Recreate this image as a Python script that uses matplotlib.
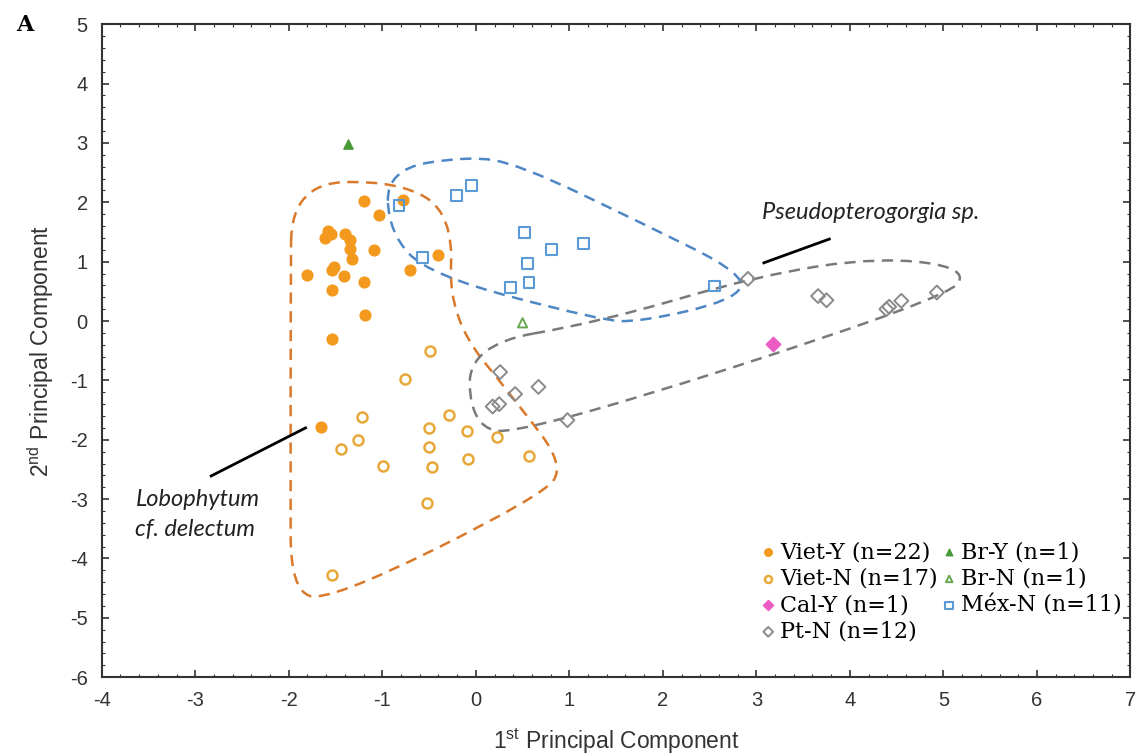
import numpy as np
import matplotlib
matplotlib.use("Agg")
import matplotlib.pyplot as plt
from matplotlib.path import Path
from matplotlib.patches import PathPatch
from matplotlib.ticker import MultipleLocator

plt.rcParams["axes.unicode_minus"] = False
plt.rcParams["mathtext.default"] = "regular"

# PCA scores
viet_y_x = [-1.20, -1.03, -0.78, -1.58, -1.61, -1.55, -1.40, -1.34, -1.34, -1.32, -1.09,
            -0.40, -1.81, -1.52, -1.54, -1.41, -1.20, -0.70, -1.54, -1.19, -1.54, -1.65]
viet_y_y = [2.02, 1.78, 2.04, 1.52, 1.39, 1.47, 1.46, 1.37, 1.22, 1.05, 1.20,
            1.11, 0.78, 0.91, 0.86, 0.76, 0.65, 0.86, 0.53, 0.10, -0.31, -1.78]

viet_n_x = [-0.49, -0.76, -1.22, -0.29, -0.50, -0.09, 0.23, -1.26, -1.44, -0.50,
            -0.08, 0.57, -0.99, -0.47, -0.52, -1.54]
viet_n_y = [-0.51, -0.97, -1.62, -1.59, -1.81, -1.86, -1.95, -2.00, -2.16, -2.13,
            -2.33, -2.27, -2.44, -2.46, -3.06, -4.27]

cal_y_x = [3.18]
cal_y_y = [-0.39]

pt_n_x = [2.91, 3.66, 3.75, 4.39, 4.42, 4.55, 4.93, 0.26, 0.67, 0.42, 0.25, 0.18, 0.98]
pt_n_y = [0.71, 0.42, 0.35, 0.20, 0.24, 0.34, 0.48, -0.86, -1.11, -1.23, -1.40, -1.44, -1.67]

br_y_x = [-1.37]
br_y_y = [2.98]

br_n_x = [0.50]
br_n_y = [-0.03]

mex_n_x = [-0.82, -0.21, -0.05, -0.57, 0.52, 0.81, 1.15, 0.55, 0.57, 0.37, 2.55]
mex_n_y = [1.94, 2.11, 2.28, 1.07, 1.49, 1.20, 1.30, 0.97, 0.65, 0.57, 0.59]

# control polygons of the dashed group outlines
hull_orange = [(-1.97, 2.32), (-0.82, 2.36), (-0.24, 1.79), (-0.29, 0.05), (0.46, -1.41),
               (0.94, -2.42), (0.73, -2.93), (-1.57, -4.73), (-1.98, -4.53),
               (-1.98, -2.68), (-1.98, 0.35)]
hull_blue = [(-0.95, 2.55), (-0.08, 2.78), (0.46, 2.64), (1.75, 1.67), (2.90, 0.77),
             (2.76, 0.35), (1.75, -0.02), (1.32, 0.02), (-0.50, 0.77), (-0.93, 1.50)]
hull_grey = [(-0.08, -0.40), (-0.05, -1.75), (0.46, -1.94), (5.06, 0.39), (5.26, 0.89),
             (4.32, 1.08), (3.03, 0.77), (1.32, -0.02)]


def smooth_closed(pts):
    # closed quadratic b-spline through edge midpoints
    pts = np.array(pts)
    n = len(pts)
    mids = (pts + np.roll(pts, -1, axis=0)) / 2
    verts = [mids[-1]]
    codes = [Path.MOVETO]
    for i in range(n):
        verts += [pts[i], mids[i]]
        codes += [Path.CURVE3, Path.CURVE3]
    return Path(verts, codes)


fig = plt.figure(figsize=(11.43, 7.55), dpi=100)
ax = fig.add_axes([0.089, 0.103, 0.9, 0.865])

for hull, col in [(hull_orange, "#d9792b"), (hull_blue, "#4f87c4"), (hull_grey, "#7a7a7a")]:
    ax.add_patch(PathPatch(smooth_closed(hull), fill=False, edgecolor=col, lw=1.8,
                           linestyle=(0, (4.5, 3)), zorder=2))

ax.scatter(viet_y_x, viet_y_y, s=60, marker="o", color="#f39a1e", edgecolors="#f39a1e",
           label="Viet-Y (n=22)", zorder=3)
ax.scatter(viet_n_x, viet_n_y, s=52, marker="o", facecolors="white", edgecolors="#e8a838",
           linewidths=1.8, label="Viet-N (n=17)", zorder=3)
ax.scatter(cal_y_x, cal_y_y, s=55, marker="D", color="#ec5cc4", edgecolors="#ec5cc4",
           label="Cal-Y (n=1)", zorder=3)
ax.scatter(pt_n_x, pt_n_y, s=50, marker="D", facecolors="none", edgecolors="#8a8a8a",
           linewidths=1.4, label="Pt-N (n=12)", zorder=3)
ax.scatter(br_y_x, br_y_y, s=45, marker="^", color="#4b9a3a", edgecolors="#4b9a3a",
           label="Br-Y (n=1)", zorder=3)
ax.scatter(br_n_x, br_n_y, s=45, marker="^", facecolors="none", edgecolors="#6aa84f",
           linewidths=1.4, label="Br-N (n=1)", zorder=3)
ax.scatter(mex_n_x, mex_n_y, s=60, marker="s", facecolors="none", edgecolors="#5b9bd5",
           linewidths=1.5, label="Méx-N (n=11)", zorder=3)

# species labels
ax.plot([3.08, 3.78], [0.98, 1.38], color="black", lw=2)
ax.text(3.06, 1.82, "Pseudopterogorgia sp.", family="Lato", style="italic",
        fontsize=17, color="#222222", va="center")
ax.plot([-2.83, -1.82], [-2.61, -1.80], color="black", lw=2)
ax.text(-3.64, -3.01, "Lobophytum", family="Lato", style="italic",
        fontsize=17, color="#222222", va="center")
ax.text(-3.64, -3.52, "cf. delectum", family="Lato", style="italic",
        fontsize=17, color="#222222", va="center")

ax.set_xlim(-4, 7)
ax.set_ylim(-6, 5)
ax.xaxis.set_major_locator(MultipleLocator(1))
ax.yaxis.set_major_locator(MultipleLocator(1))
ax.xaxis.set_minor_locator(MultipleLocator(0.2))
ax.yaxis.set_minor_locator(MultipleLocator(0.2))
ax.tick_params(which="both", direction="in", top=True, right=True, colors="#333333")
ax.tick_params(which="major", length=5, width=1.2, labelsize=14.5, pad=10)
ax.tick_params(which="minor", length=2.5, width=0.8)
for lab in ax.get_xticklabels() + ax.get_yticklabels():
    lab.set_family("Liberation Sans")
for sp in ax.spines.values():
    sp.set_linewidth(1.5)
    sp.set_color("#333333")

ax.set_xlabel("1$^{st}$ Principal Component", family="Liberation Sans", fontsize=16.5,
              color="#333333", labelpad=12)
ax.set_ylabel("2$^{nd}$ Principal Component", family="Liberation Sans", fontsize=16.5,
              color="#333333", labelpad=10)

leg = ax.legend(loc="upper left", bbox_to_anchor=(0.622, 0.232), ncol=2, frameon=False,
                prop={"family": "DejaVu Serif", "size": 16}, handletextpad=0.05,
                columnspacing=0.0, labelspacing=0.2, handlelength=1.0,
                markerscale=0.7, borderpad=0.2)

fig.text(0.014, 0.967, "A", family="DejaVu Serif", fontweight="bold", fontsize=16,
         va="center")

fig.savefig("out.png", dpi=100)
